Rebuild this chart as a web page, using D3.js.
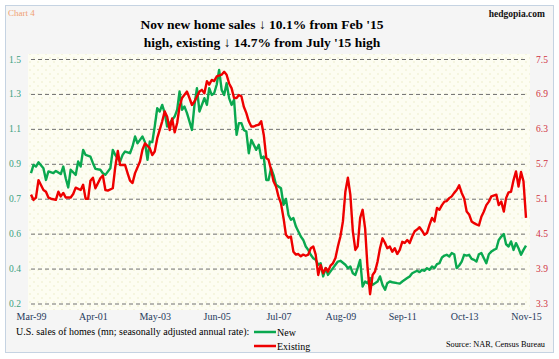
<!DOCTYPE html>
<html><head><meta charset="utf-8">
<script src="https://cdn.jsdelivr.net/npm/d3@7/dist/d3.min.js"></script>
<style>html,body{margin:0;padding:0;background:#fff;}svg{display:block;}</style>
</head><body>
<script>
// month offsets from Mar-1999, values in millions (SAAR)
const newSales = [[0,0.893],[1,0.937],[2,0.928],[3,0.951],[5,0.919],[6,0.857],[7,0.902],[9,0.893],[10,0.905],[12,0.888],[13,0.928],[14,0.866],[15,0.817],[16,0.911],[18,0.884],[19,0.955],[20,0.928],[21,1.017],[22,0.990],[24,0.981],[25,0.946],[26,0.916],[28,0.911],[29,0.893],[30,0.884],[32,0.919],[33,1.017],[34,0.990],[36,0.955],[37,0.990],[38,1.008],[40,0.999],[41,1.035],[42,1.088],[43,1.052],[44,1.070],[45,1.088],[46,1.058],[47,0.964],[48,1.061],[49,1.058],[50,1.141],[51,1.238],[52,1.221],[53,1.256],[54,1.212],[55,1.141],[56,1.159],[58,1.194],[59,1.230],[60,1.327],[61,1.230],[62,1.247],[63,1.212],[65,1.123],[66,1.256],[67,1.345],[68,1.221],[70,1.292],[71,1.256],[72,1.345],[73,1.309],[74,1.318],[75,1.363],[76,1.442],[77,1.336],[78,1.309],[79,1.371],[80,1.292],[81,1.256],[82,1.283],[83,1.097],[84,1.159],[85,1.159],[86,1.123],[87,1.114],[88,0.999],[89,1.070],[91,1.017],[92,1.044],[93,0.973],[94,0.981],[95,0.857],[96,0.857],[97,0.919],[98,0.884],[99,0.831],[100,0.822],[101,0.813],[102,0.725],[103,0.756],[104,0.671],[105,0.645],[106,0.654],[107,0.609],[109,0.556],[110,0.538],[111,0.503],[112,0.485],[113,0.459],[114,0.441],[115,0.432],[116,0.406],[117,0.414],[118,0.344],[119,0.388],[120,0.352],[122,0.388],[123,0.406],[124,0.423],[125,0.427],[127,0.406],[128,0.388],[129,0.397],[130,0.361],[131,0.352],[132,0.388],[133,0.432],[134,0.290],[135,0.317],[136,0.308],[137,0.335],[138,0.299],[140,0.317],[141,0.344],[142,0.299],[143,0.273],[144,0.308],[145,0.317],[146,0.313],[148,0.308],[149,0.306],[150,0.317],[152,0.335],[153,0.344],[154,0.361],[156,0.374],[157,0.367],[158,0.379],[159,0.374],[160,0.388],[161,0.379],[162,0.397],[163,0.388],[164,0.409],[165,0.414],[166,0.445],[167,0.455],[168,0.459],[169,0.450],[170,0.468],[171,0.462],[172,0.388],[173,0.402],[174,0.423],[175,0.459],[176,0.455],[177,0.459],[178,0.437],[179,0.432],[180,0.423],[181,0.462],[182,0.468],[183,0.441],[184,0.414],[185,0.462],[186,0.476],[187,0.485],[188,0.491],[189,0.538],[190,0.556],[191,0.569],[192,0.515],[193,0.503],[194,0.530],[195,0.485],[196,0.521],[197,0.494],[198,0.459],[199,0.485],[200,0.508]];

const existingSales = [[0,5.17],[1,5.08],[2,5.12],[3,5.42],[5,5.25],[6,5.22],[7,5.12],[8,5.10],[10,5.08],[11,5.22],[12,5.14],[13,5.20],[14,5.12],[16,5.12],[17,5.18],[18,5.29],[20,5.25],[21,5.34],[22,5.10],[23,5.10],[24,5.41],[25,5.46],[26,5.28],[28,5.45],[29,5.50],[30,5.25],[31,5.24],[33,5.28],[34,5.65],[35,5.92],[36,5.68],[38,5.68],[39,5.54],[40,5.41],[41,5.37],[42,5.54],[44,5.74],[45,5.94],[46,6.05],[48,5.97],[49,5.85],[50,5.91],[51,6.14],[53,6.43],[54,6.60],[55,6.51],[56,6.28],[57,6.48],[58,6.24],[59,6.40],[60,6.68],[61,6.83],[63,6.94],[64,6.83],[65,6.71],[66,6.77],[68,6.94],[69,6.97],[70,6.91],[71,7.12],[72,7.06],[73,7.14],[74,7.12],[75,7.20],[77,7.23],[78,7.28],[79,7.23],[80,7.08],[81,7.00],[82,6.83],[83,6.83],[84,6.88],[85,6.86],[86,6.68],[87,6.57],[88,6.43],[89,6.34],[90,6.34],[91,6.36],[92,6.37],[93,6.43],[94,6.20],[95,5.80],[96,5.77],[97,5.60],[98,5.40],[99,5.31],[100,5.14],[101,5.02],[102,4.77],[103,4.48],[104,4.43],[105,4.45],[106,4.19],[107,4.14],[108,4.15],[109,4.11],[110,4.14],[111,4.12],[112,4.14],[113,4.25],[114,4.28],[115,4.14],[116,3.79],[117,3.96],[118,3.82],[119,3.91],[120,3.85],[121,3.95],[122,3.99],[123,4.08],[124,4.28],[125,4.45],[126,4.71],[127,5.22],[128,5.46],[129,5.17],[130,4.54],[131,4.22],[132,4.28],[133,4.77],[134,4.91],[135,4.59],[136,3.91],[137,3.46],[138,3.79],[139,3.85],[140,4.02],[141,4.25],[142,4.42],[143,4.34],[144,4.25],[145,4.28],[146,4.19],[147,4.25],[148,4.15],[149,4.22],[150,4.36],[151,4.34],[152,4.39],[153,4.34],[154,4.45],[155,4.54],[156,4.57],[157,4.61],[158,4.55],[159,4.48],[160,4.51],[161,4.65],[162,4.77],[163,4.71],[164,4.94],[165,4.91],[166,4.99],[167,5.05],[168,5.06],[169,5.11],[170,5.14],[171,5.20],[172,5.25],[173,5.33],[174,5.20],[175,5.11],[176,4.88],[177,4.83],[178,4.71],[179,4.68],[180,4.66],[181,4.64],[182,4.79],[183,4.88],[184,4.99],[185,5.05],[186,5.14],[188,5.17],[189,4.99],[190,5.05],[191,4.88],[192,5.11],[193,5.21],[194,5.22],[195,5.42],[196,5.57],[197,5.31],[198,5.56],[199,5.40],[200,4.77]];

const leftTickLabels = ["0.2","0.4","0.6","0.7","0.9","1.1","1.3","1.5"];
const rightTickValues = [3.3,3.9,4.5,5.1,5.7,6.3,6.9,7.5];
const xTickMonths = [0,25,50,75,100,125,150,175,200];
const seriesNames = ["New","Existing"];
const titleLines = ["Nov new home sales \u2193 10.1% from Feb '15","high, existing \u2193 14.7% from July '15 high"];

const W = 559, H = 359;
const start = new Date(1999, 2, 1);
const toDate = m => d3.timeMonth.offset(start, m);

const svg = d3.select("body").append("svg").attr("width", W).attr("height", H);
const defs = svg.append("defs");
const pat = defs.append("pattern").attr("id","dots").attr("width",8).attr("height",8).attr("patternUnits","userSpaceOnUse");
pat.append("rect").attr("width",8).attr("height",8).attr("fill","#fdfdf2");
pat.append("circle").attr("cx",2).attr("cy",2).attr("r",0.8).attr("fill","#ecebc8");
pat.append("circle").attr("cx",6).attr("cy",6).attr("r",0.8).attr("fill","#ecebc8");

svg.append("rect").attr("width",W).attr("height",H).attr("fill","#ffffff");
svg.append("rect").attr("x",5.5).attr("y",5.5).attr("width",W-11).attr("height",H-12)
  .attr("fill","#f5f5f5").attr("stroke","#c5d3e2").attr("stroke-width",1);

const x = d3.scaleTime().domain([toDate(0), toDate(200)]).range([31, 526]);
const yL = d3.scaleLinear().domain([0.2, 1.5]).range([303.5, 59]);
const yR = d3.scaleLinear().domain([3.3, 7.5]).range([303.5, 59]);

// plot background
svg.append("rect").attr("x",28).attr("y",54).attr("width",502).attr("height",256).attr("fill","url(#dots)");

const serif = "'Liberation Serif','DejaVu Serif',serif";

// gridlines + left axis
const leftVals = d3.range(8).map(i => 0.2 + i*1.3/7);
const gl = svg.append("g").attr("transform","translate(31,0)")
  .call(d3.axisLeft(yL).tickValues(leftVals).tickSize(-497).tickFormat((d,i)=>leftTickLabels[i]));
gl.select(".domain").remove();
gl.selectAll(".tick line").attr("stroke","#707070").attr("stroke-dasharray","4,3").attr("stroke-width",1);
gl.selectAll(".tick text").attr("x",-22).attr("text-anchor","start").attr("fill","#3a9f80")
  .style("font-family",serif).style("font-size","9.5px");

const gr = svg.append("g").attr("transform","translate(528,0)")
  .call(d3.axisRight(yR).tickValues(rightTickValues).tickSize(0).tickFormat(d3.format(".1f")));
gr.select(".domain").remove();
gr.selectAll(".tick text").attr("x",8).attr("fill","#d0323f")
  .style("font-family",serif).style("font-size","9.5px");

const gx = svg.append("g").attr("transform","translate(0,308)")
  .call(d3.axisBottom(x).tickValues(xTickMonths.map(toDate)).tickSize(0).tickFormat(d3.timeFormat("%b-%y")));
gx.select(".domain").remove();
gx.selectAll(".tick text").attr("dy","0.9em").attr("fill","#263a5c")
  .style("font-family",serif).style("font-size","10px");

// lines
const lineL = d3.line().x(d=>x(toDate(d[0]))).y(d=>yL(d[1]));
const lineR = d3.line().x(d=>x(toDate(d[0]))).y(d=>yR(d[1]));
svg.append("path").datum(newSales).attr("d",lineL).attr("fill","none")
  .attr("stroke","#0aa84f").attr("stroke-width",2.4).attr("stroke-linejoin","round");
svg.append("path").datum(existingSales).attr("d",lineR).attr("fill","none")
  .attr("stroke","#ee0000").attr("stroke-width",2.4).attr("stroke-linejoin","round");

// titles
svg.append("text").attr("x",8).attr("y",16).text("Chart 4").attr("fill","#f0a070")
  .style("font-family",serif).style("font-size","9px");
svg.append("text").attr("x",545).attr("y",17).attr("text-anchor","end").text("hedgopia.com")
  .style("font-family",serif).style("font-size","9.5px").style("font-weight","bold").attr("fill","#111");
svg.selectAll(".title").data(titleLines).enter().append("text")
  .attr("x",262).attr("y",(d,i)=>29+i*18).attr("text-anchor","middle").text(d=>d)
  .style("font-family",serif).style("font-size","13.5px").style("font-weight","bold").attr("fill","#000");

// legend
svg.append("text").attr("x",16).attr("y",335).text("U.S. sales of homes (mn; seasonally adjusted annual rate):")
  .style("font-family",serif).style("font-size","10px").attr("fill","#000");
const legColors = ["#0aa84f","#ee0000"];
seriesNames.forEach((n,i)=>{
  const yy = 332 + i*14;
  svg.append("line").attr("x1",254).attr("x2",276).attr("y1",yy).attr("y2",yy)
    .attr("stroke",legColors[i]).attr("stroke-width",2.5);
  svg.append("text").attr("x",277).attr("y",yy+4).text(n)
    .style("font-family",serif).style("font-size","10px").attr("fill","#000");
});
svg.append("text").attr("x",545).attr("y",347).attr("text-anchor","end").text("Source: NAR, Census Bureau")
  .style("font-family",serif).style("font-size","8.3px").attr("fill","#000");
</script>
</body></html>
